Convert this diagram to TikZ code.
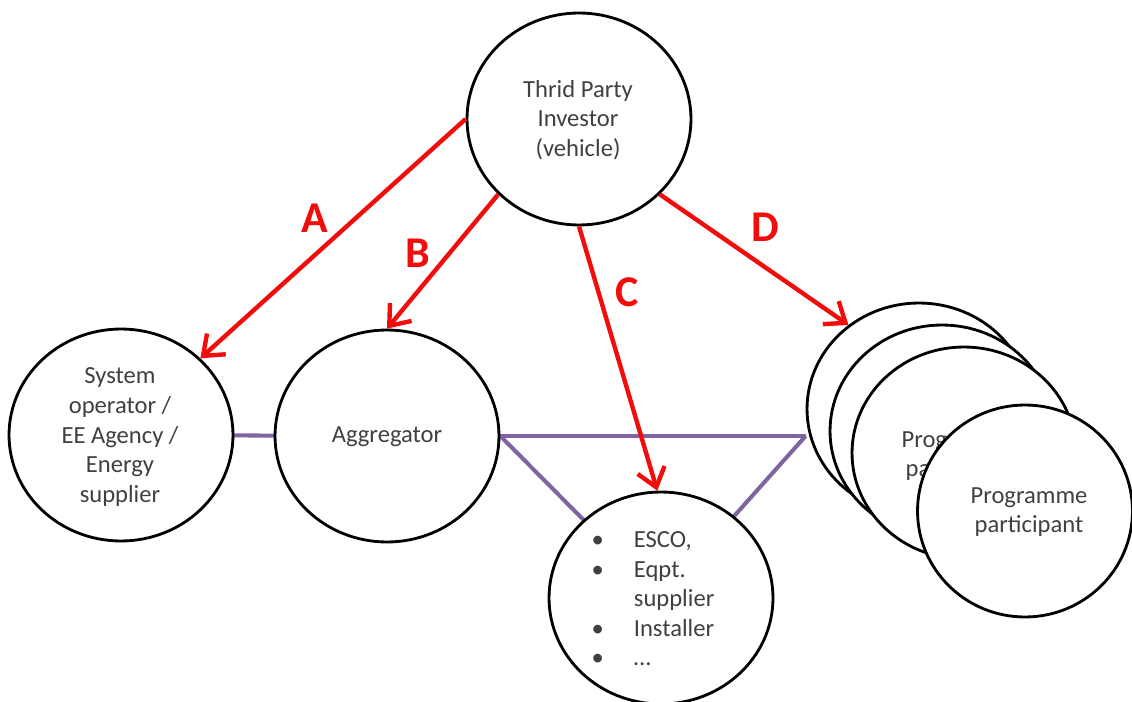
\documentclass[tikz,border=0pt]{standalone}
\usepackage{fontspec}
\setmainfont{Carlito}
\usetikzlibrary{shapes.geometric,arrows.meta,backgrounds}
\definecolor{arrowred}{RGB}{242,12,12}
\definecolor{linkpurple}{RGB}{128,100,162}
\definecolor{textgray}{RGB}{64,64,64}
\tikzset{
  party/.style={ellipse, draw=black, line width=1.6pt, fill=white,
    minimum width=4.48cm, minimum height=4.24cm, inner sep=0pt},
  partytext/.style={align=center, text=textgray, inner sep=0pt,
    font=\fontsize{14}{16.8}\selectfont},
  flow/.style={draw=arrowred, line width=2.5pt,
    -{Straight Barb[length=3.6mm,width=5.6mm]}},
  flowlabel/.style={text=arrowred, inner sep=0pt,
    font=\fontsize{25}{28}\selectfont\bfseries},
  link/.style={draw=linkpurple, line width=2.3pt},
}
\begin{document}
\begin{tikzpicture}[x=0.02cm,y=-0.02cm]
\useasboundingbox (0,0) rectangle (1132,702);

% parties
\node[party] (tpi) at (579,119) {};
\node[partytext] (tpitext) at (578,120) {Thrid Party\\Investor\\(vehicle)};

\node[party] (sys) at (121,435) {};
\node[partytext] (systext) at (120,437) {System\\operator /\\EE Agency /\\Energy\\supplier};

\node[party] (agg) at (387,436) {};
\node[partytext] (aggtext) at (387,437) {Aggregator};

\node[party] (esco) at (661,598) {};
\node[partytext, align=left] (escotext) at (653,601) {%
  \begin{tabular}{@{}l@{\hspace{0.6cm}}l@{}}
  \textbullet & ESCO,\\
  \textbullet & Eqpt.\\
              & supplier\\
  \textbullet & Installer\\
  \textbullet & \ldots
  \end{tabular}};

% stack of programme participants, back to front
\node[party] (pp1) at (919,409) {};
\node[party] (pp2) at (942,431) {};
\node[party] (pp3) at (964,453) {};
\node[partytext] (pp3text) at (960,456) {Programme\\participant};
\node[party, minimum width=4.3cm] (pp4) at (1025,511) {};
\node[partytext] (pp4text) at (1029,512) {Programme\\participant};

% purple links behind the parties
\coordinate (j) at (agg.east -| pp1.west);
\begin{scope}[on background layer]
  \draw[link] (sys.center) -- (agg.center);
  \draw[link] (agg.east) -- (j);
  \draw[link] (agg.east) -- (esco.center);
  \draw[link] (j) -- (esco.center);
\end{scope}

% investment routes
\draw[flow] (tpi.180) -- (sys.44);
\draw[flow] (tpi.223) -- (agg.90);
\draw[flow] (tpi.270) -- (esco.92);
\draw[flow] (tpi.317) -- (pp1.130);

\node[flowlabel] (la) at (315,218) {A};
\node[flowlabel] (lb) at (418,253) {B};
\node[flowlabel] (lc) at (627,292) {C};
\node[flowlabel] (ld) at (765,227) {D};
\end{tikzpicture}
\end{document}
